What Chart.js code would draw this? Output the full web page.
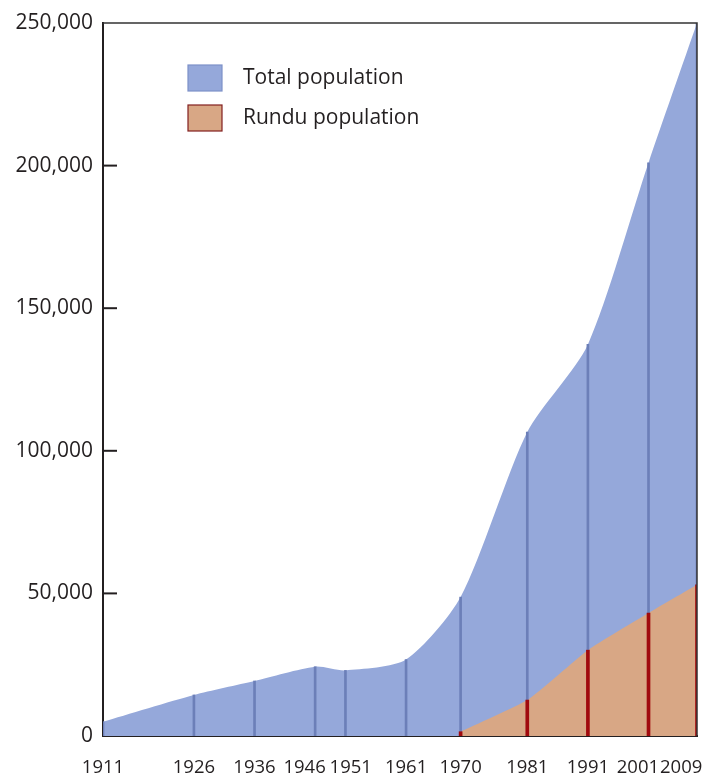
<!DOCTYPE html>
<html>
<head>
<meta charset="utf-8">
<title>Total and Rundu population</title>
<script src="https://cdn.jsdelivr.net/npm/chart.js@4.4.1/dist/chart.umd.min.js"></script>
<style>
    html, body { margin: 0; padding: 0; background: #ffffff; }
    canvas { display: block; }
</style>
</head>
<body>
<canvas id="myChart" width="705" height="776"></canvas>
<script>
// Datos
const years = [1911, 1926, 1936, 1946, 1951, 1961, 1970, 1981, 1991, 2001, 2009];
const totalPopulation = [5000, 14400, 19300, 24300, 23000, 26800, 48700, 106600, 137300, 201000, 250000];
const ruduPopulation = [null, null, null, null, null, null, 1500, 12600, 30100, 43100, 53000];
const yTicks = [0, 50000, 100000, 150000, 200000, 250000];
const seriesLabels = ['Total population', 'Rundu population'];

const BLUE = 'rgb(149, 168, 218)';
const BLUE_LINE = 'rgb(108, 127, 184)';
const ORANGE = 'rgb(216, 167, 133)';
const RED_LINE = 'rgb(160, 10, 14)';
const INK = '#231f20';
const FIG = '\u2007';

// Lineas verticales en cada censo (barras flotantes)
const blueLines = years.map((yr, i) => ({ x: yr, y: [ruduPopulation[i] ?? 0, totalPopulation[i]] }));
const redLines = years
    .map((yr, i) => ({ x: yr, y: [0, ruduPopulation[i]] }))
    .filter(p => p.y[1] !== null);

// Marco, marcas del eje y leyenda dibujados con las escalas del chart
const framePlugin = {
    id: 'frame',
    afterDraw(chart) {
        const { ctx, chartArea, scales } = chart;
        ctx.save();
        // borde superior y derecho
        ctx.strokeStyle = '#333';
        ctx.lineWidth = 1.5;
        ctx.beginPath();
        ctx.moveTo(chartArea.left, chartArea.top);
        ctx.lineTo(chartArea.right, chartArea.top);
        ctx.lineTo(chartArea.right, chartArea.bottom);
        ctx.stroke();
        // marcas hacia dentro
        ctx.strokeStyle = INK;
        ctx.lineWidth = 2;
        scales.y.ticks.forEach((t, i) => {
            if (t.value === 0 || t.value === 250000) return;
            const py = scales.y.getPixelForTick(i);
            ctx.beginPath();
            ctx.moveTo(chartArea.left, py);
            ctx.lineTo(chartArea.left + 14, py);
            ctx.stroke();
        });
        // leyenda
        const lx = chartArea.left + 85;
        const ly = chartArea.top + 42;
        const items = [
            { text: seriesLabels[0], fill: BLUE, stroke: 'rgb(125, 145, 200)' },
            { text: seriesLabels[1], fill: ORANGE, stroke: 'rgb(130, 30, 30)' }
        ];
        ctx.font = '21px "Open Sans"';
        ctx.textBaseline = 'middle';
        ctx.textAlign = 'left';
        items.forEach((it, i) => {
            const by = ly + i * 40;
            ctx.fillStyle = it.fill;
            ctx.fillRect(lx, by, 34, 26);
            ctx.strokeStyle = it.stroke;
            ctx.lineWidth = 1.2;
            ctx.strokeRect(lx, by, 34, 26);
            ctx.fillStyle = INK;
            ctx.fillText(it.text, lx + 55, by + 13);
        });
        ctx.restore();
    }
};

const chart = document.getElementById('myChart');

new Chart(chart, {
    type: 'line',
    data: {
        datasets: [
            {
                type: 'bar',
                label: 'red',
                data: redLines,
                backgroundColor: RED_LINE,
                barThickness: 3,
                grouped: false,
                order: 0
            },
            {
                type: 'bar',
                label: 'blue',
                data: blueLines,
                backgroundColor: BLUE_LINE,
                barThickness: 2,
                grouped: false,
                order: 1
            },
            {
                label: seriesLabels[1],
                data: years.map((yr, i) => ({ x: yr, y: ruduPopulation[i] })),
                backgroundColor: ORANGE,
                borderWidth: 0,
                pointRadius: 0,
                fill: 'origin',
                tension: 0.15,
                order: 2
            },
            {
                label: seriesLabels[0],
                data: years.map((yr, i) => ({ x: yr, y: totalPopulation[i] })),
                backgroundColor: BLUE,
                borderWidth: 0,
                pointRadius: 0,
                fill: 'origin',
                tension: 0.25,
                order: 3
            }
        ]
    },
    options: {
        responsive: false,
        animation: false,
        devicePixelRatio: 1,
        layout: { padding: { top: 23, right: 8, left: 0, bottom: 0 } },
        plugins: {
            legend: { display: false },
            tooltip: { enabled: false }
        },
        scales: {
            x: {
                type: 'linear',
                min: years[0],
                max: years[years.length - 1],
                offset: false,
                grid: { display: false, drawTicks: false },
                border: { display: true, color: INK, width: 2 },
                afterBuildTicks: (scale) => {
                    scale.ticks = years.map(v => ({ value: v }));
                },
                afterFit: (scale) => {
                    scale.height = 40;
                    scale.paddingLeft = 0;
                    scale.paddingRight = 0;
                },
                ticks: {
                    autoSkip: false,
                    maxRotation: 0,
                    minRotation: 0,
                    padding: 21,
                    color: INK,
                    font: { family: '"Open Sans"', size: 18.5 },
                    // rotulos apretados se corren como en el original
                    callback: (v) => {
                        if (v === 2009) return v + FIG + FIG + FIG;
                        if (v === 2001) return v + FIG + FIG;
                        if (v === 1946) return v + FIG + FIG;
                        if (v === 1951) return FIG + v;
                        return String(v);
                    }
                }
            },
            y: {
                min: 0,
                max: 250000,
                grid: { display: false, drawTicks: false },
                border: { display: true, color: INK, width: 2 },
                afterBuildTicks: (scale) => {
                    scale.ticks = yTicks.map(v => ({ value: v }));
                },
                afterFit: (scale) => {
                    scale.width = 103;
                },
                ticks: {
                    padding: 10,
                    color: INK,
                    font: { family: '"Open Sans"', size: 21 }
                }
            }
        }
    },
    plugins: [framePlugin]
});
</script>
</body>
</html>
